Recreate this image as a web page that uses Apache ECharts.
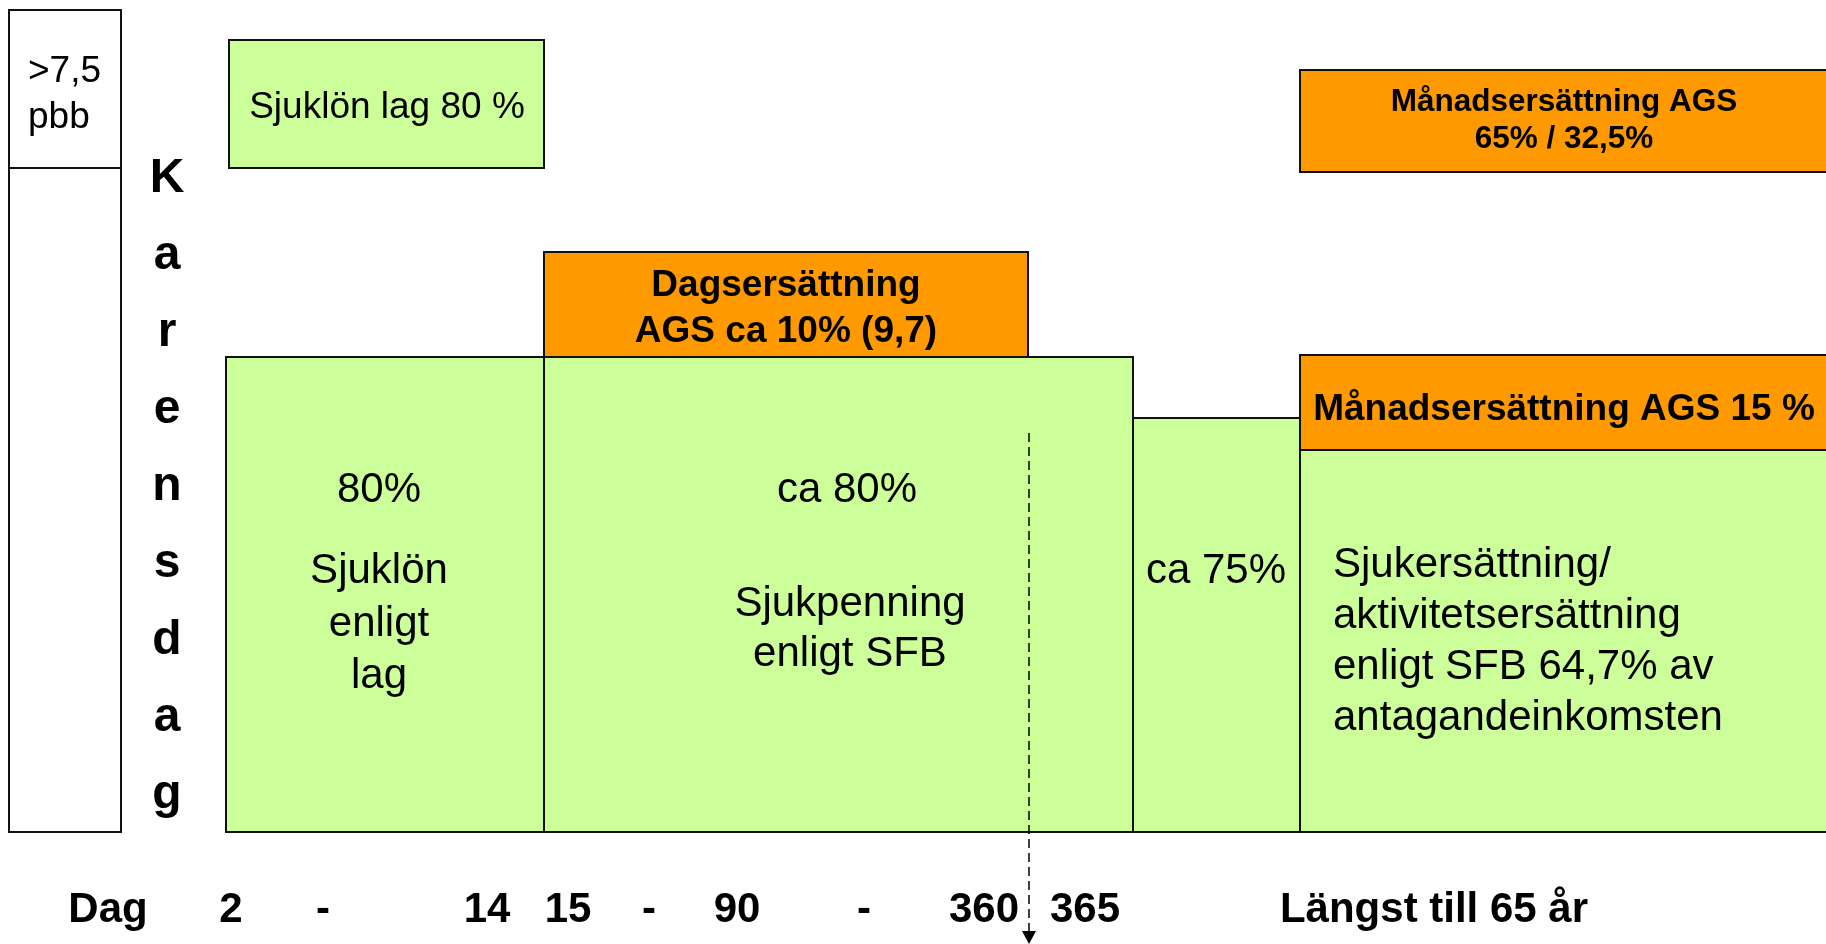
<!DOCTYPE html>
<html><head><meta charset="utf-8">
<script src="https://cdn.jsdelivr.net/npm/echarts@6/dist/echarts.min.js"></script>
<style>html,body{margin:0;padding:0;background:#fff;overflow:hidden}#c{width:1826px;height:944px}</style>
</head><body><div id="c"></div>
<script>
// Diagram units (one unit = one page pixel through the hidden axes)
const boxes = [ // [x0, y0, x1, y1, kind]
  [9, 10, 121, 168, 'white'],
  [9, 168, 121, 832, 'white'],
  [229, 40, 544, 168, 'green'],
  [226, 357, 544, 832, 'green'],
  [544, 252, 1028, 357, 'orange'],
  [544, 357, 1133, 832, 'green'],
  [1133, 418, 1300, 832, 'green'],
  [1300, 70, 1830, 172, 'orange'],
  [1300, 355, 1830, 450, 'orange'],
  [1300, 450, 1830, 832, 'green']
];
const labels = [ // [x, y, text, style, align]
  [28, 95, '>7,5\npbb', 'small', 'left'],
  [167, 487, 'K\na\nr\ne\nn\ns\nd\na\ng', 'karens', 'center'],
  [387, 108, 'Sjuklön lag 80 %', 'normal', 'center'],
  [379, 490, '80%', 'big', 'center'],
  [379, 624, 'Sjuklön\nenligt\nlag', 'big', 'center'],
  [786, 309, 'Dagsersättning\nAGS ca 10% (9,7)', 'boldBox', 'center'],
  [847, 490, 'ca 80%', 'big', 'center'],
  [850, 629, 'Sjukpenning\nenligt SFB', 'big2', 'center'],
  [1216, 571, 'ca 75%', 'big', 'center'],
  [1564, 121, 'Månadsersättning AGS\n65% / 32,5%', 'boldTop', 'center'],
  [1564, 410, 'Månadsersättning AGS 15 %', 'boldBox', 'center'],
  [1333, 642, 'Sjukersättning/\naktivitetsersättning\nenligt SFB 64,7% av\nantagandeinkomsten', 'big3', 'left']
];
const dayTicks = [ // [x, text]
  [108, 'Dag'], [231, '2'], [323, '-'], [487, '14'], [568, '15'], [649, '-'],
  [737, '90'], [864, '-'], [984, '360'], [1085, '365'], [1434, 'Längst till 65 år']
];
const tickRow = [910];
const marker = [[1029, 433, 944]]; // [x, yStart, yTip]

const FONT = "'Liberation Sans', Arial, sans-serif";
const fills = { white: '#ffffff', green: '#CCFF99', orange: '#FF9900' };
const styles = {
  small:   { fontSize: 37, fontWeight: 'normal', lineHeight: 46 },
  karens:  { fontSize: 48, fontWeight: 'bold', lineHeight: 77 },
  normal:  { fontSize: 37, fontWeight: 'normal', lineHeight: 52.5 },
  big:     { fontSize: 42, fontWeight: 'normal', lineHeight: 52.5 },
  big2:    { fontSize: 42, fontWeight: 'normal', lineHeight: 50 },
  big3:    { fontSize: 42, fontWeight: 'normal', lineHeight: 51 },
  boldBox: { fontSize: 37, fontWeight: 'bold', lineHeight: 46 },
  boldTop: { fontSize: 31.5, fontWeight: 'bold', lineHeight: 37 },
  tick:    { fontSize: 42, fontWeight: 'bold', lineHeight: 46 }
};

const chart = echarts.init(document.getElementById('c'), null, { renderer: 'canvas' });

function textEl(p, text, st, align) {
  return {
    type: 'text', x: p[0], y: p[1],
    style: {
      text: text, fill: '#000', fontFamily: FONT,
      fontSize: st.fontSize, fontWeight: st.fontWeight, lineHeight: st.lineHeight,
      align: align, verticalAlign: 'middle'
    }
  };
}

chart.setOption({
  animation: false,
  grid: { left: 0, top: 0, right: 0, bottom: 0 },
  xAxis: { type: 'value', min: 0, max: 1826, show: false },
  yAxis: { type: 'value', min: 0, max: 944, inverse: true, show: false },
  series: [
    {
      type: 'custom', data: boxes, clip: false,
      renderItem: function (params, api) {
        const b = boxes[params.dataIndex];
        const p0 = api.coord([b[0], b[1]]);
        const p1 = api.coord([b[2], b[3]]);
        return {
          type: 'rect',
          shape: { x: p0[0], y: p0[1], width: p1[0] - p0[0], height: p1[1] - p0[1] },
          style: { fill: fills[b[4]], stroke: '#111', lineWidth: 2 }
        };
      }
    },
    {
      type: 'custom', data: marker, clip: false,
      renderItem: function (params, api) {
        const m = marker[params.dataIndex];
        const a = api.coord([m[0], m[1]]);
        const t = api.coord([m[0], m[2]]);
        return {
          type: 'group', children: [
            { type: 'line', shape: { x1: a[0], y1: a[1], x2: t[0], y2: t[1] - 12 },
              style: { stroke: '#000', lineWidth: 1.5, lineDash: [9, 5] } },
            { type: 'polygon', shape: { points: [[t[0] - 7, t[1] - 13], [t[0] + 7, t[1] - 13], [t[0], t[1]]] },
              style: { fill: '#000' } }
          ]
        };
      }
    },
    {
      type: 'custom', data: labels, clip: false,
      renderItem: function (params, api) {
        const l = labels[params.dataIndex];
        return textEl(api.coord([l[0], l[1]]), l[2], styles[l[3]], l[4]);
      }
    },
    {
      type: 'custom', data: dayTicks, clip: false,
      renderItem: function (params, api) {
        const d = dayTicks[params.dataIndex];
        return textEl(api.coord([d[0], tickRow[0]]), d[1], styles.tick, 'center');
      }
    }
  ]
});
</script>
</body></html>
